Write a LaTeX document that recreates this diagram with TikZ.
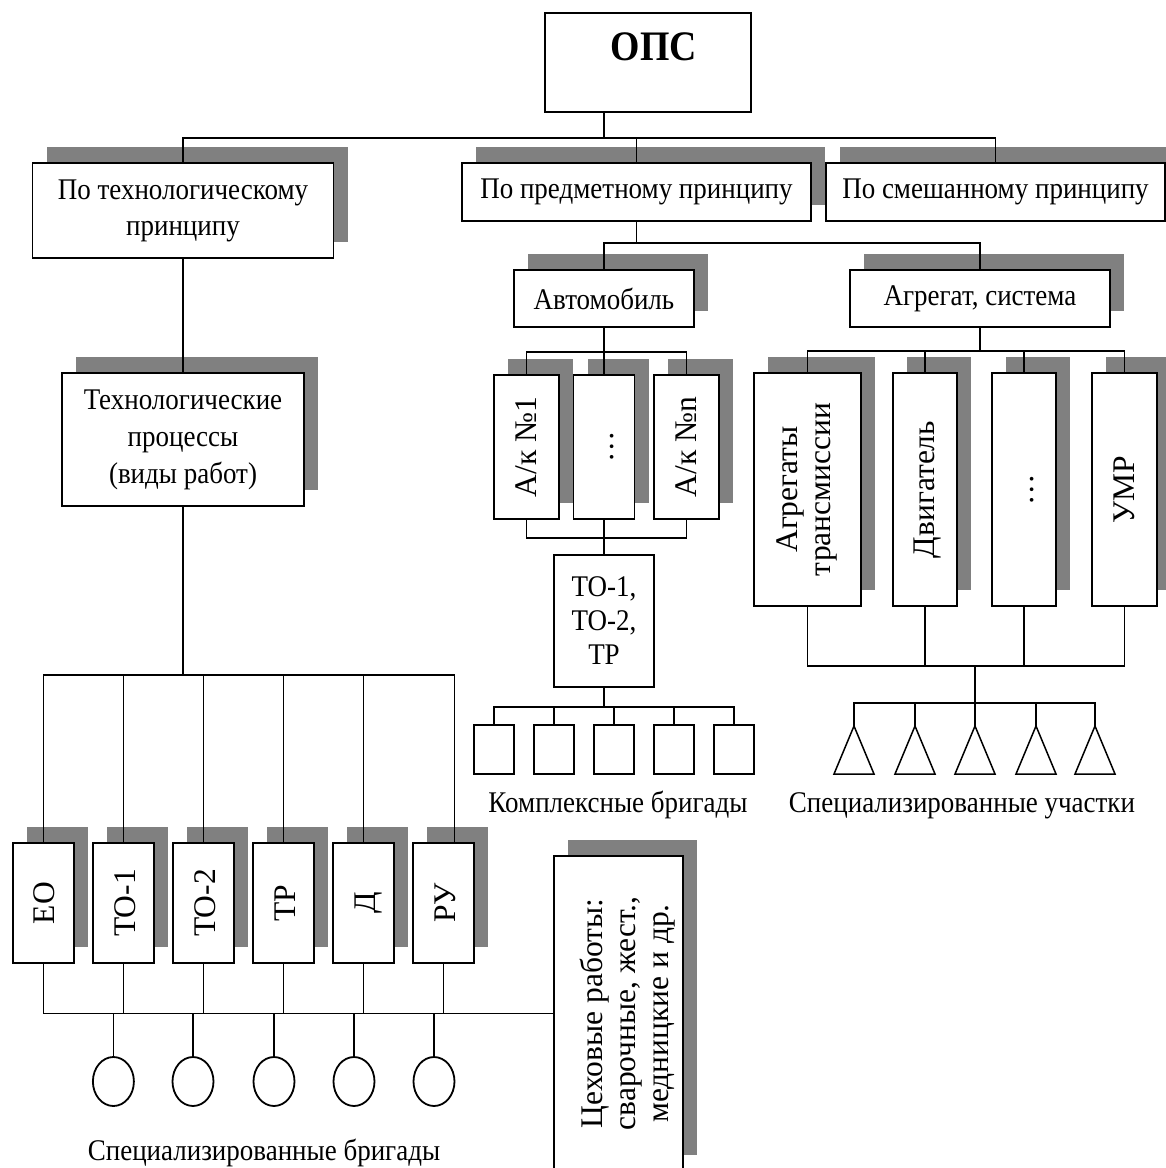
\documentclass[tikz,border=0pt]{standalone}
\usepackage{fontspec}
\setmainfont{Liberation Serif}[FakeStretch=0.9]
\newfontfamily\vfont{Liberation Serif}
\usepackage{graphicx}
\usepackage{tikz}
\usetikzlibrary{shadows,shapes.geometric}
\definecolor{shadegray}{RGB}{128,128,128}
\newcommand{\vtext}[2][3pt]{\rotatebox{90}{\vfont\fontsize{31.5}{33}\selectfont\raisebox{-#1}[\height][\depth]{\begin{tabular}{@{}c@{}}#2\end{tabular}}}}

\begin{document}
\begin{tikzpicture}[x=1pt,y=-1pt,
  box/.style={draw,line width=1.8pt,fill=white,inner sep=0pt,align=center,font=\fontsize{30}{36}\selectfont},
  shbox/.style={box,drop shadow={shadow xshift=14pt,shadow yshift=16pt,opacity=1,fill=shadegray}},
  link/.style={line width=1.5pt},
  lbl/.style={inner sep=0pt,font=\fontsize{30}{36}\selectfont}]
  % structure of the production system: three principles, their units and the teams below them
  \useasboundingbox (0,0) rectangle (1166,1168);
  \node[box,minimum width=206,minimum height=99] (ops) at (648,62.5) {};
  \node[inner sep=0pt,font=\fontsize{42}{48}\selectfont\bfseries] (opsname) at (654,47) {ОПС};
  \node[shbox,minimum width=301,minimum height=95] (tech) at (183,210.5) {По технологическому\\принципу};
  \node[shbox,minimum width=349,minimum height=58] (subj) at (636.5,192) {По предметному принципу};
  \node[shbox,minimum width=339,minimum height=58] (mixed) at (995.5,192) {По смешанному принципу};
  \draw[link] ([xshift=-44pt]ops.south) -- ++(0,25) coordinate (bus1);
  \draw[link] (tech.north) |- (bus1) -| (mixed.north);
  \draw[link] (subj.north) -- (subj.north |- bus1);

  \node[shbox,minimum width=242,minimum height=133,font=\fontsize{30}{37}\selectfont] (proc) at (183,439.5) {Технологические\\процессы\\(виды работ)};
  \draw[link] (tech.south) -- (proc.north);

  \node[shbox,minimum width=180,minimum height=57] (auto) at (604,298.5) {Автомобиль};
  \node[shbox,minimum width=260,minimum height=57] (unit) at (980,298.5) {Агрегат, система};
  \draw[link] (subj.south) -- ++(0,21) coordinate (bus2);
  \draw[link] (auto.north) |- (bus2) -| (unit.north);

  \node[shbox,minimum width=65,minimum height=144] (ak1) at (526.5,447) {\vtext{А/к №1}};
  \node[shbox,minimum width=61,minimum height=144] (akdots) at (604,447) {\vtext{…}};
  \node[shbox,minimum width=65,minimum height=144] (akn) at (686.5,447) {\vtext{А/к №n}};
  \draw[link] (auto.south) -- ++(0,24) coordinate (bus3);
  \draw[link] (ak1.north) |- (bus3) -| (akn.north);
  \draw[link] (bus3) -- (akdots.north);
  \node[box,minimum width=100,minimum height=132,font=\fontsize{30}{34}\selectfont] (to) at (604,621) {ТО-1,\\ТО-2,\\ТР};
  \draw[link] (ak1.south) -- ++(0,18) -| (akn.south);
  \draw[link] (akdots.south) -- (to.north);
  \foreach \i/\x in {1/494,2/554,3/614,4/674,5/734}
    \node[box,minimum width=40,minimum height=49] (team\i) at (\x,749.5) {};
  \draw[link] (to.south) -- ++(0,19) coordinate (bus4);
  \draw[link] (team1.north) |- (bus4) -| (team5.north);
  \foreach \i in {2,3,4}
    \draw[link] (team\i.north) -- (team\i.north |- bus4);
  \node[lbl,anchor=base] (teamlbl) at (618,812) {Комплексные бригады};

  \node[shbox,minimum width=107,minimum height=233] (gear) at (807.5,489.5) {\vtext[0pt]{Агрегаты\\трансмиссии}};
  \node[shbox,minimum width=64,minimum height=233] (engine) at (925,489.5) {\vtext{Двигатель}};
  \node[shbox,minimum width=64,minimum height=233] (unitdots) at (1024,489.5) {\vtext{…}};
  \node[shbox,minimum width=65,minimum height=233] (umr) at (1124.5,489.5) {\vtext{УМР}};
  \draw[link] (unit.south) -- ++(0,23) coordinate (bus5);
  \draw[link] (gear.north) |- (bus5) -| (umr.north);
  \draw[link] (engine.north) -- (engine.north |- bus5);
  \draw[link] (unitdots.north) -- (unitdots.north |- bus5);
  \draw[link] (gear.south) -- ++(0,59) -| (umr.south);
  \draw[link] (engine.south) -- ++(0,59);
  \draw[link] (unitdots.south) -- ++(0,59);
  \coordinate (hub) at (975,665);
  \coordinate (hub2) at (975,703);
  \draw[link] (hub) -- (hub2);
  \foreach \i/\x in {1/854,2/915,3/975,4/1036,5/1095} {
    \coordinate (site\i) at (\x,726);
    \draw[link] (site\i) -- ++(-20,48) -- ++(40,0) -- cycle;
  }
  \draw[link] (site1) |- (hub2) -| (site5);
  \foreach \i in {2,3,4}
    \draw[link] (site\i) -- (site\i |- hub2);
  \node[lbl,anchor=base] (sitelbl) at (962,812) {Специализированные участки};

  \foreach \n/\x/\t in {eo/43.3/ЕО,to1/123.5/ТО-1,to2/203.5/ТО-2,tr/283.5/ТР,diag/363.5/Д,ru/443.5/РУ}
    \node[shbox,minimum width=61,minimum height=120] (\n) at (\x,903) {\vtext[5pt]{\t}};
  \draw[link] (proc.south) -- ++(0,168) coordinate (bus7);
  \draw[link] (eo.north) |- (bus7) -| ([xshift=11pt]ru.north);
  \foreach \n in {to1,to2,tr,diag}
    \draw[link] (\n.north) -- (\n.north |- bus7);
  \node[shbox,minimum width=129,minimum height=315,anchor=north] (shop) at (618.5,855) {\vtext[10pt]{Цеховые работы:\\сварочные, жест.,\\медницкие и др.}};
  \draw[link] (eo.south) |- (shop.west);
  \foreach \n in {to1,to2,tr,diag,ru}
    \draw[link] (\n.south) -- (\n.south |- shop.west);
  \foreach \i/\x in {1/113.4,2/193,3/274,4/354,5/434} {
    \node[draw,ellipse,line width=1.8pt,inner sep=0pt,minimum width=41,minimum height=49] (crew\i) at (\x,1081.5) {};
    \draw[link] (crew\i.north) -- (crew\i.north |- shop.west);
  }
  \node[lbl,anchor=base] (crewlbl) at (264,1160) {Специализированные бригады};
\end{tikzpicture}
\end{document}
